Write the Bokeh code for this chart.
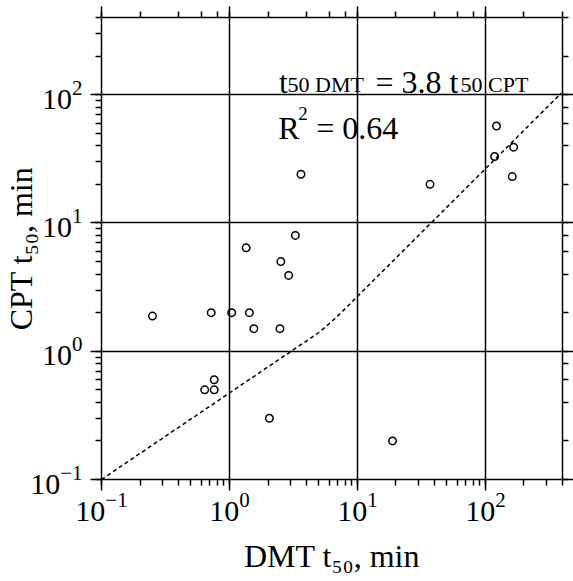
import numpy as np
from bokeh.plotting import figure
from bokeh.models import LogAxis, LogTicker, Label, Range1d, CustomJSTickFormatter
from bokeh.embed import file_html
from bokeh.resources import INLINE

# ---- data ----
dmt_t50 = [0.25, 0.72, 1.04, 1.43, 1.55, 2.48, 0.64, 0.76, 0.76, 2.05, 18.8,
           1.35, 2.52, 2.90, 3.27, 3.62, 36.9, 122, 118, 166, 162]
cpt_t50 = [1.88, 2.0, 2.0, 2.0, 1.5, 1.5, 0.5, 0.5, 0.6, 0.3, 0.2,
           6.4, 5.0, 3.9, 8.0, 24, 20, 57, 33, 39, 23]

fit_dmt = [0.1, 5.0, 6.9, 390]
fit_cpt = [0.1, 1.40, 1.85, 102.6]

x_label = "DMT t₅₀, min"
y_label = "CPT t₅₀, min"

FONT = "Liberation Serif"

p = figure(width=573, height=581, x_axis_type="log", y_axis_type="log",
           x_range=Range1d(0.1, 400), y_range=Range1d(0.1, 400),
           output_backend="svg", toolbar_location=None,
           min_border_left=101, min_border_right=10,
           min_border_top=17, min_border_bottom=102)
p.outline_line_color = None
p.background_fill_color = "white"
p.border_fill_color = "white"

# grid
p.xgrid.grid_line_color = "black"
p.ygrid.grid_line_color = "black"
p.xgrid.grid_line_width = 1.5
p.ygrid.grid_line_width = 1.5

def style_axis(ax):
    ax.axis_line_color = "black"
    ax.axis_line_width = 1.5
    ax.major_tick_line_color = "black"
    ax.minor_tick_line_color = "black"
    ax.major_tick_line_width = 1.5
    ax.minor_tick_line_width = 1.5
    ax.major_tick_out = 11
    ax.major_tick_in = 0
    ax.minor_tick_out = 6
    ax.minor_tick_in = 0
    ax.major_label_text_font = FONT
    ax.major_label_text_font_size = "30px"
    ax.major_label_text_color = "black"
    ax.axis_label_text_font = FONT
    ax.axis_label_text_font_size = "32px"
    ax.axis_label_text_font_style = "normal"
    ax.axis_label_text_color = "black"

for ax in p.xaxis + p.yaxis:
    style_axis(ax)

p.xaxis.axis_label = x_label
p.yaxis.axis_label = y_label
p.xaxis.major_label_standoff = 2
p.xaxis.axis_label_standoff = 14
p.yaxis.major_label_standoff = 8
p.yaxis.axis_label_standoff = -12

blank = CustomJSTickFormatter(code="return ''")
top = LogAxis(ticker=LogTicker(), formatter=blank)
right = LogAxis(ticker=LogTicker(), formatter=blank)
for ax in (top, right):
    style_axis(ax)
    ax.major_label_standoff = 0
p.add_layout(top, "above")
p.add_layout(right, "right")

# fit line and points
p.line(fit_dmt, fit_cpt, line_color="black", line_width=1.5, line_dash="4 3")
p.scatter(dmt_t50, cpt_t50, marker="circle", size=7.5, fill_color=None,
          line_color="black", line_width=1.5)

# annotation (screen units relative to frame: x from left, y from bottom)
def lab(x, y, text, size):
    p.add_layout(Label(x=x, y=y, x_units="screen", y_units="screen", text=text,
                       text_font=FONT, text_font_size=size, text_color="black",
                       text_baseline="alphabetic", text_align="left"))

lab(177.5, 398, "t", "32px")
lab(186, 395, "50 DMT", "22px")
lab(274, 398, "= 3.8 t", "32px")
lab(359, 395, "50 CPT", "22px")
lab(176.8, 352, "R", "32px")
lab(196.7, 365.7, "2", "19px")
lab(214.7, 352, "= 0.64", "32px")

open("out.html", "w").write(file_html(p, INLINE))
